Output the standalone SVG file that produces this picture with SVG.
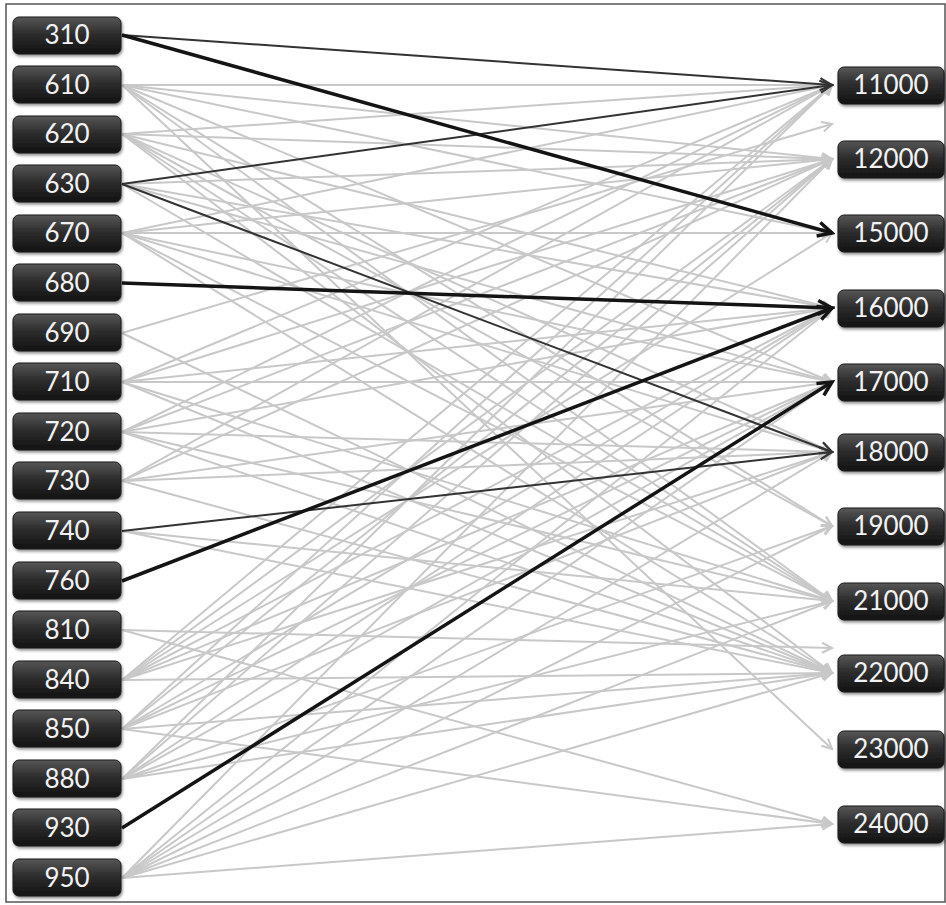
<svg xmlns="http://www.w3.org/2000/svg" width="946" height="905" viewBox="0 0 946 905">
<defs>
<linearGradient id="box" x1="0" y1="0" x2="0" y2="1">
<stop offset="0" stop-color="#575757"/><stop offset="0.45" stop-color="#2e2e2e"/><stop offset="1" stop-color="#121212"/>
</linearGradient>
<filter id="sh" x="-10%" y="-20%" width="125%" height="150%"><feDropShadow dx="1" dy="2" stdDeviation="1.5" flood-color="#000" flood-opacity="0.45"/></filter>
<marker id="ag" viewBox="0 0 14 14" refX="12" refY="7" markerWidth="14" markerHeight="14" markerUnits="userSpaceOnUse" orient="auto"><path d="M2,2 L12,7 L2,12" fill="none" stroke="#c8c8c8" stroke-width="2"/></marker>
<marker id="ad" viewBox="0 0 16 16" refX="14" refY="8" markerWidth="16" markerHeight="16" markerUnits="userSpaceOnUse" orient="auto"><path d="M2,2 L14,8 L2,14" fill="none" stroke="#333" stroke-width="2.2"/></marker>
<marker id="at" viewBox="0 0 20 20" refX="17" refY="10" markerWidth="20" markerHeight="20" markerUnits="userSpaceOnUse" orient="auto"><path d="M3,3 L17,10 L3,17" fill="none" stroke="#141414" stroke-width="3.5"/></marker>
</defs>
<style>
.n rect{fill:url(#box);stroke:#1a1a1a;stroke-width:1;filter:url(#sh)}
.n text{fill:#f2f2f2;font-family:Lato,"Open Sans","Liberation Sans",sans-serif;font-size:26px;text-anchor:middle}
.g line{stroke:#c8c8c8;stroke-width:2;marker-end:url(#ag)}
.d{stroke:#333;stroke-width:2;marker-end:url(#ad)}
.t{stroke:#141414;stroke-width:3.5;marker-end:url(#at)}
</style>
<rect x="6" y="4" width="939" height="898" fill="#fff" stroke="#555" stroke-width="1.5"/>
<g id="connectors">
<g class="g">
<line x1="122" y1="85" x2="832" y2="85"/>
<line x1="122" y1="85" x2="832" y2="159"/>
<line x1="122" y1="85" x2="832" y2="233"/>
<line x1="122" y1="85" x2="832" y2="382"/>
<line x1="122" y1="85" x2="832" y2="526"/>
<line x1="122" y1="85" x2="832" y2="601"/>
<line x1="122" y1="85" x2="832" y2="749"/>
<line x1="122" y1="134" x2="832" y2="85"/>
<line x1="122" y1="134" x2="832" y2="159"/>
<line x1="122" y1="134" x2="832" y2="308"/>
<line x1="122" y1="134" x2="832" y2="452"/>
<line x1="122" y1="134" x2="832" y2="526"/>
<line x1="122" y1="134" x2="832" y2="601"/>
<line x1="122" y1="134" x2="832" y2="673"/>
<line x1="122" y1="184" x2="832" y2="159"/>
<line x1="122" y1="184" x2="832" y2="308"/>
<line x1="122" y1="184" x2="832" y2="382"/>
<line x1="122" y1="184" x2="832" y2="601"/>
<line x1="122" y1="233" x2="832" y2="85"/>
<line x1="122" y1="233" x2="832" y2="159"/>
<line x1="122" y1="233" x2="832" y2="233"/>
<line x1="122" y1="233" x2="832" y2="382"/>
<line x1="122" y1="233" x2="832" y2="452"/>
<line x1="122" y1="233" x2="832" y2="601"/>
<line x1="122" y1="233" x2="832" y2="673"/>
<line x1="122" y1="333" x2="832" y2="124"/>
<line x1="122" y1="333" x2="832" y2="673"/>
<line x1="122" y1="382" x2="832" y2="85"/>
<line x1="122" y1="382" x2="832" y2="159"/>
<line x1="122" y1="382" x2="832" y2="308"/>
<line x1="122" y1="382" x2="832" y2="382"/>
<line x1="122" y1="382" x2="832" y2="601"/>
<line x1="122" y1="382" x2="832" y2="673"/>
<line x1="122" y1="432" x2="832" y2="85"/>
<line x1="122" y1="432" x2="832" y2="159"/>
<line x1="122" y1="432" x2="832" y2="308"/>
<line x1="122" y1="432" x2="832" y2="452"/>
<line x1="122" y1="432" x2="832" y2="601"/>
<line x1="122" y1="432" x2="832" y2="673"/>
<line x1="122" y1="481" x2="832" y2="85"/>
<line x1="122" y1="481" x2="832" y2="159"/>
<line x1="122" y1="481" x2="832" y2="382"/>
<line x1="122" y1="481" x2="832" y2="452"/>
<line x1="122" y1="481" x2="832" y2="673"/>
<line x1="122" y1="531" x2="832" y2="601"/>
<line x1="122" y1="531" x2="832" y2="673"/>
<line x1="122" y1="630" x2="832" y2="648"/>
<line x1="122" y1="630" x2="832" y2="824"/>
<line x1="122" y1="680" x2="832" y2="85"/>
<line x1="122" y1="680" x2="832" y2="159"/>
<line x1="122" y1="680" x2="832" y2="233"/>
<line x1="122" y1="680" x2="832" y2="308"/>
<line x1="122" y1="680" x2="832" y2="382"/>
<line x1="122" y1="680" x2="832" y2="452"/>
<line x1="122" y1="680" x2="832" y2="673"/>
<line x1="122" y1="729" x2="832" y2="85"/>
<line x1="122" y1="729" x2="832" y2="159"/>
<line x1="122" y1="729" x2="832" y2="308"/>
<line x1="122" y1="729" x2="832" y2="382"/>
<line x1="122" y1="729" x2="832" y2="452"/>
<line x1="122" y1="729" x2="832" y2="673"/>
<line x1="122" y1="729" x2="832" y2="824"/>
<line x1="122" y1="779" x2="832" y2="85"/>
<line x1="122" y1="779" x2="832" y2="159"/>
<line x1="122" y1="779" x2="832" y2="308"/>
<line x1="122" y1="779" x2="832" y2="382"/>
<line x1="122" y1="779" x2="832" y2="526"/>
<line x1="122" y1="779" x2="832" y2="601"/>
<line x1="122" y1="779" x2="832" y2="673"/>
<line x1="122" y1="878" x2="832" y2="159"/>
<line x1="122" y1="878" x2="832" y2="308"/>
<line x1="122" y1="878" x2="832" y2="382"/>
<line x1="122" y1="878" x2="832" y2="452"/>
<line x1="122" y1="878" x2="832" y2="526"/>
<line x1="122" y1="878" x2="832" y2="601"/>
<line x1="122" y1="878" x2="832" y2="673"/>
<line x1="122" y1="878" x2="832" y2="824"/>
</g>
<line class="d" x1="122" y1="35" x2="832" y2="85"/>
<line class="d" x1="122" y1="184" x2="832" y2="85"/>
<line class="d" x1="122" y1="184" x2="832" y2="452"/>
<line class="d" x1="122" y1="531" x2="832" y2="452"/>
<line class="t" x1="122" y1="35" x2="832" y2="233"/>
<line class="t" x1="122" y1="283" x2="832" y2="308"/>
<line class="t" x1="122" y1="581" x2="832" y2="308"/>
<line class="t" x1="122" y1="828" x2="832" y2="382"/>
</g>
<g id="n310" class="n"><rect x="13" y="17" width="108" height="37" rx="6"/><text x="67" y="44">310</text></g>
<g id="n610" class="n"><rect x="13" y="66" width="108" height="37" rx="6"/><text x="67" y="94">610</text></g>
<g id="n620" class="n"><rect x="13" y="116" width="108" height="37" rx="6"/><text x="67" y="143">620</text></g>
<g id="n630" class="n"><rect x="13" y="165" width="108" height="37" rx="6"/><text x="67" y="193">630</text></g>
<g id="n670" class="n"><rect x="13" y="215" width="108" height="37" rx="6"/><text x="67" y="242">670</text></g>
<g id="n680" class="n"><rect x="13" y="264" width="108" height="37" rx="6"/><text x="67" y="292">680</text></g>
<g id="n690" class="n"><rect x="13" y="314" width="108" height="37" rx="6"/><text x="67" y="342">690</text></g>
<g id="n710" class="n"><rect x="13" y="363" width="108" height="37" rx="6"/><text x="67" y="391">710</text></g>
<g id="n720" class="n"><rect x="13" y="413" width="108" height="37" rx="6"/><text x="67" y="441">720</text></g>
<g id="n730" class="n"><rect x="13" y="462" width="108" height="37" rx="6"/><text x="67" y="490">730</text></g>
<g id="n740" class="n"><rect x="13" y="512" width="108" height="37" rx="6"/><text x="67" y="540">740</text></g>
<g id="n760" class="n"><rect x="13" y="562" width="108" height="37" rx="6"/><text x="67" y="590">760</text></g>
<g id="n810" class="n"><rect x="13" y="611" width="108" height="37" rx="6"/><text x="67" y="639">810</text></g>
<g id="n840" class="n"><rect x="13" y="661" width="108" height="37" rx="6"/><text x="67" y="689">840</text></g>
<g id="n850" class="n"><rect x="13" y="710" width="108" height="37" rx="6"/><text x="67" y="738">850</text></g>
<g id="n880" class="n"><rect x="13" y="760" width="108" height="37" rx="6"/><text x="67" y="788">880</text></g>
<g id="n930" class="n"><rect x="13" y="809" width="108" height="37" rx="6"/><text x="67" y="837">930</text></g>
<g id="n950" class="n"><rect x="13" y="859" width="108" height="37" rx="6"/><text x="67" y="887">950</text></g>
<g id="n11000" class="n"><rect x="838" y="67" width="106" height="37" rx="6"/><text x="891" y="94">11000</text></g>
<g id="n12000" class="n"><rect x="838" y="141" width="106" height="37" rx="6"/><text x="891" y="168">12000</text></g>
<g id="n15000" class="n"><rect x="838" y="215" width="106" height="37" rx="6"/><text x="891" y="242">15000</text></g>
<g id="n16000" class="n"><rect x="838" y="290" width="106" height="37" rx="6"/><text x="891" y="317">16000</text></g>
<g id="n17000" class="n"><rect x="838" y="364" width="106" height="37" rx="6"/><text x="891" y="391">17000</text></g>
<g id="n18000" class="n"><rect x="838" y="434" width="106" height="37" rx="6"/><text x="891" y="461">18000</text></g>
<g id="n19000" class="n"><rect x="838" y="508" width="106" height="37" rx="6"/><text x="891" y="535">19000</text></g>
<g id="n21000" class="n"><rect x="838" y="583" width="106" height="37" rx="6"/><text x="891" y="610">21000</text></g>
<g id="n22000" class="n"><rect x="838" y="655" width="106" height="37" rx="6"/><text x="891" y="682">22000</text></g>
<g id="n23000" class="n"><rect x="838" y="731" width="106" height="37" rx="6"/><text x="891" y="758">23000</text></g>
<g id="n24000" class="n"><rect x="838" y="806" width="106" height="37" rx="6"/><text x="891" y="833">24000</text></g>
</svg>
